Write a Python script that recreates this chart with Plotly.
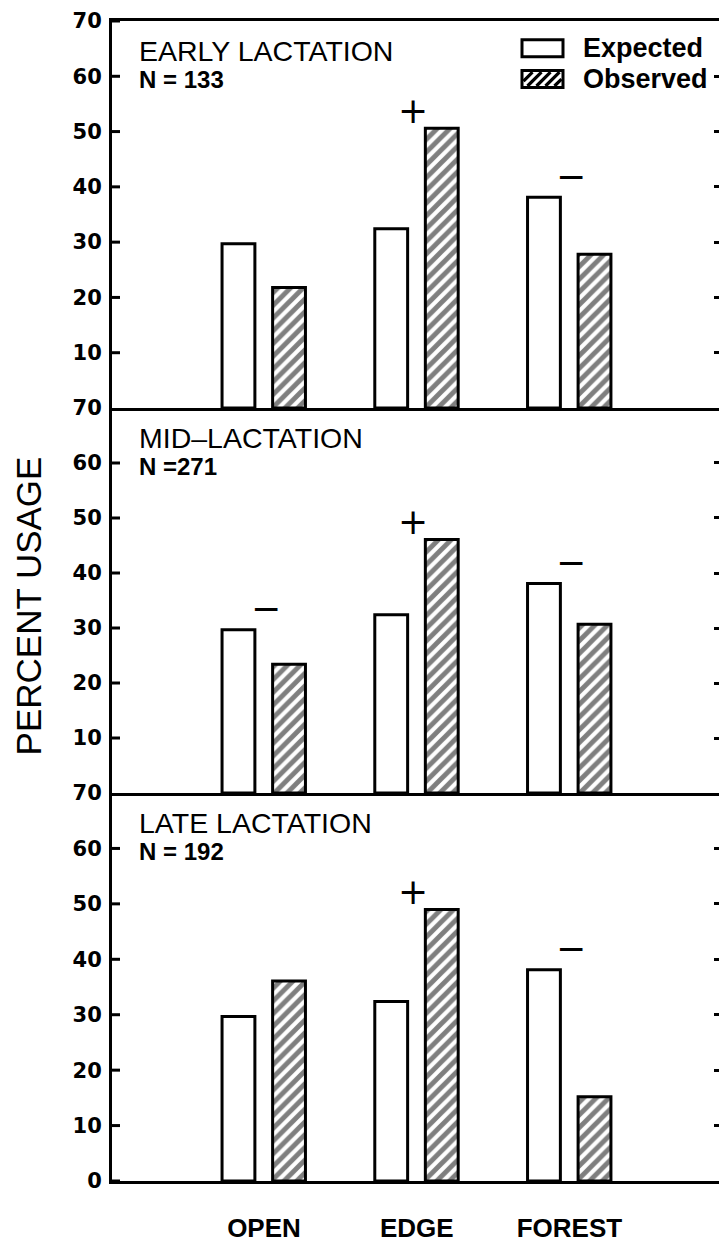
import plotly.graph_objects as go

# Habitat categories and percent usage values
habitats = ["OPEN", "EDGE", "FOREST"]
expected = [29.7, 32.4, 38.1]
observed_early = [21.8, 50.6, 27.8]
observed_mid = [23.4, 46.1, 30.7]
observed_late = [36.1, 49.0, 15.2]

# Selection signs above each habitat group (blank = no sign)
signs_early = ["", "+", "\u2212"]
signs_mid = ["\u2212", "+", "\u2212"]
signs_late = ["", "+", "\u2212"]

panel_titles = ["EARLY LACTATION", "MID\u2013LACTATION", "LATE LACTATION"]
sample_sizes = ["N = 133", "N =271", "N = 192"]
legend_labels = ["Expected", "Observed"]

ticks_upper = [10, 20, 30, 40, 50, 60, 70]
ticks_bottom = [0, 10, 20, 30, 40, 50, 60, 70]

panels = [
    (observed_early, signs_early, ticks_upper),
    (observed_mid, signs_mid, ticks_upper),
    (observed_late, signs_late, ticks_bottom),
]

# Page geometry (pixels)
W, H = 719, 1243
ML, MR, MT, MB = 112, 0, 21, 53
PW = W - ML - MR
PH = H - MT - MB


def px_x(px):
    return (px - ML) / PW


def px_y(py):
    return (H - MB - py) / PH


panel_edges = [21, 411, 799, 1190]
domains = [[px_y(panel_edges[i + 1]), px_y(panel_edges[i])] for i in range(3)]

BAR_W = 0.215
EXP_OFF = -0.2745
OBS_OFF = 0.0565
LINE = 3
HATCH = dict(shape="/", fgcolor="black", bgcolor="white", size=9, solidity=0.55)

REG = "Liberation Sans"
BOLD_NUM = dict(family="DejaVu Sans", size=21, color="black", weight="bold")
X_RANGE = [-0.995, 2.979]
SIGN_GAP = {"+": 3.3, "\u2212": 3.8}
SIGN_SHIFT = {"+": -4, "\u2212": 2}
LEFT_TICK_LEN = 8 / PW  # fraction of the x domain

fig = go.Figure()
annotations = []
shapes = []
layout = {}

for i, (observed, signs, tvals) in enumerate(panels):
    n = i + 1
    sfx = "" if n == 1 else str(n)
    xa, ya, yr = f"x{sfx}", f"y{sfx}", f"y{n + 3}"
    fig.add_trace(go.Bar(
        x=habitats, y=expected, xaxis=xa, yaxis=ya, width=BAR_W, offset=EXP_OFF,
        marker=dict(color="white", line=dict(color="black", width=LINE)),
        showlegend=False, hoverinfo="skip"))
    fig.add_trace(go.Bar(
        x=habitats, y=observed, xaxis=xa, yaxis=ya, width=BAR_W, offset=OBS_OFF,
        marker=dict(color="white", line=dict(color="black", width=LINE), pattern=HATCH),
        showlegend=False, hoverinfo="skip"))
    # hidden trace so the right-hand tick axis gets drawn
    fig.add_trace(go.Bar(
        x=habitats, y=observed, xaxis=xa, yaxis=yr, visible="legendonly",
        showlegend=False, hoverinfo="skip"))

    layout[f"xaxis{sfx}"] = dict(
        domain=[0, 1], anchor=ya, range=X_RANGE, type="category",
        showline=True, linewidth=LINE, linecolor="black", mirror=(n == 1),
        ticks="", showgrid=False, zeroline=False,
        showticklabels=(n == 3), ticklabelstandoff=22,
        tickfont=dict(family=REG, size=26, color="black", weight="bold"))
    layout[f"yaxis{sfx}"] = dict(
        domain=domains[i], anchor=xa, range=[0, 70], tickvals=tvals,
        showline=True, linewidth=LINE, linecolor="black", ticks="",
        showgrid=False, zeroline=False, ticklabelstandoff=3, tickfont=BOLD_NUM)
    # short inward ticks along the right edge
    layout[f"yaxis{n + 3}"] = dict(
        overlaying=ya, anchor=xa, side="right", range=[0, 70], tickvals=tvals,
        ticks="inside", ticklen=5, tickwidth=LINE, tickcolor="black",
        showticklabels=False, showline=False, showgrid=False, zeroline=False)
    # inward tick marks on the left frame, one per tick value
    for v in tvals:
        shapes.append(dict(
            type="line", xref=f"{xa} domain", yref=ya, x0=0, x1=LEFT_TICK_LEN, y0=v, y1=v,
            line=dict(color="black", width=LINE), layer="above"))

    top = panel_edges[i]
    annotations.append(dict(
        text=panel_titles[i], xref="paper", yref="paper", x=px_x(137), y=px_y(top + 30),
        xanchor="left", yanchor="middle", showarrow=False,
        font=dict(family=REG, size=28.5, color="black")))
    annotations.append(dict(
        text=sample_sizes[i], xref="paper", yref="paper", x=px_x(137), y=px_y(top + 59),
        xanchor="left", yanchor="middle", showarrow=False,
        font=dict(family=REG, size=24, color="black", weight="bold")))

    for j, s in enumerate(signs):
        if s:
            annotations.append(dict(
                text=s, xref=xa, yref=ya, x=habitats[j],
                y=max(expected[j], observed[j]) + SIGN_GAP[s], xshift=SIGN_SHIFT[s],
                xanchor="center", yanchor="middle", showarrow=False,
                font=dict(family="DejaVu Sans", size=36, color="black")))


# Legend keys: open box and hatched box
def key_box(x0, y0, x1, y1):
    return dict(type="rect", xref="paper", yref="paper",
                x0=px_x(x0), x1=px_x(x1), y0=px_y(y1), y1=px_y(y0),
                line=dict(color="black", width=LINE), fillcolor="white", layer="above")


def hatch_path(x0, y0, x1, y1, step=9):
    # diagonal "/" strokes clipped to the box interior
    h = y1 - y0
    parts = []
    s = x0 - h
    while s < x1:
        ax, ay = s, y1
        bx, by = s + h, y0
        if ax < x0:
            ay -= (x0 - ax)
            ax = x0
        if bx > x1:
            by += (bx - x1)
            bx = x1
        if bx > ax:
            parts.append(f"M{px_x(ax)},{px_y(ay)} L{px_x(bx)},{px_y(by)}")
        s += step
    return " ".join(parts)


shapes.append(key_box(522, 40, 563, 57))
shapes.append(key_box(522, 71, 563, 88))
shapes.append(dict(type="path", xref="paper", yref="paper", path=hatch_path(523.5, 72.5, 561.5, 86.5),
                   line=dict(color="black", width=3.2), layer="above"))

for k, lab in enumerate(legend_labels):
    annotations.append(dict(
        text=lab, xref="paper", yref="paper", x=px_x(581), y=px_y(48 + 31 * k),
        xanchor="left", yanchor="middle", showarrow=False,
        font=dict(family=REG, size=27, color="black", weight="bold")))

annotations.append(dict(
    text="PERCENT USAGE", xref="paper", yref="paper", x=px_x(28), y=px_y(611),
    xanchor="center", yanchor="middle", textangle=-90, showarrow=False,
    font=dict(family=REG, size=35, color="black")))

fig.update_layout(
    width=W, height=H, margin=dict(l=ML, r=MR, t=MT, b=MB),
    paper_bgcolor="white", plot_bgcolor="white",
    barmode="overlay", annotations=annotations, shapes=shapes, **layout)

fig.write_html("out.html")
